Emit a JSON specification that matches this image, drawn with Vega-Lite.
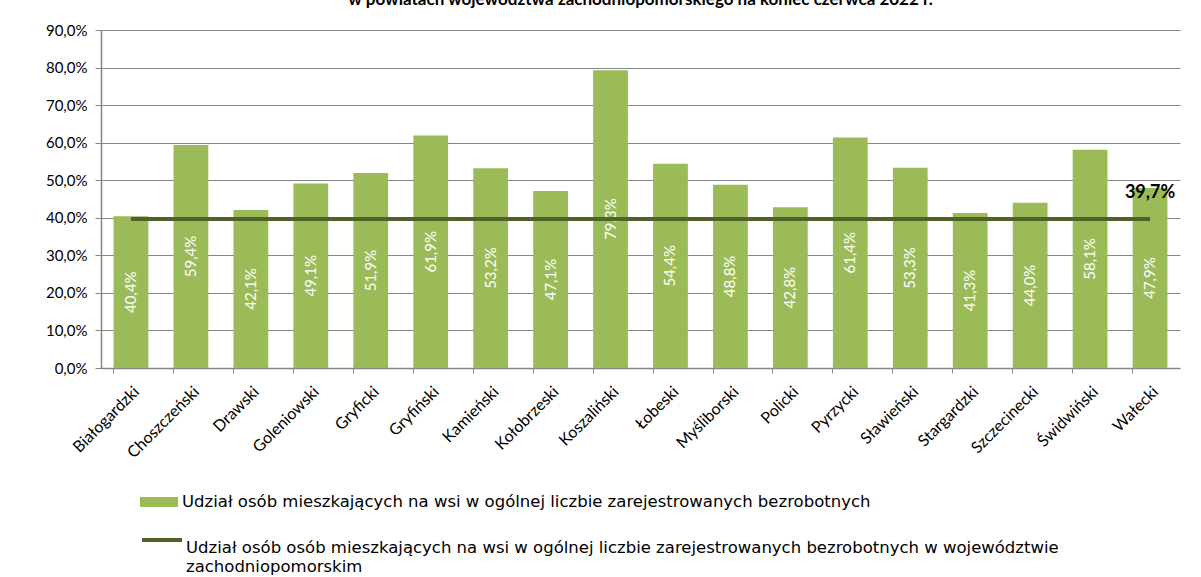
{
  "$schema": "https://vega.github.io/schema/vega-lite/v6.json",
  "autosize": {"type": "none"},
  "width": 1079,
  "height": 338,
  "padding": {"left": 101, "top": 30, "right": 21, "bottom": 209},
  "background": "white",
  "config": {
    "locale": {"number": {"decimal": ",", "thousands": " ", "grouping": [3], "currency": ["", " zł"]}},
    "font": "Lato",
    "view": {"stroke": null},
    "axisY": {
      "format": ".1%",
      "values": [0, 0.1, 0.2, 0.3, 0.4, 0.5, 0.6, 0.7, 0.8, 0.9],
      "labelOverlap": false,
      "labelFontSize": 15,
      "labelColor": "black",
      "labelPadding": 8,
      "tickSize": 6,
      "tickColor": "#868686",
      "domainColor": "#868686",
      "domainWidth": 1.5,
      "gridColor": "#868686",
      "gridWidth": 1,
      "title": null
    }
  },
  "title": {
    "text": "w powiatach województwa zachodniopomorskiego na koniec czerwca 2022 r.",
    "fontSize": 17,
    "fontWeight": "bold",
    "color": "black",
    "offset": 14,
    "anchor": "middle"
  },
  "data": {
    "values": [
      {"p": "Białogardzki", "v": 0.404, "avg": 0.397},
      {"p": "Choszczeński", "v": 0.594, "avg": 0.397},
      {"p": "Drawski", "v": 0.421, "avg": 0.397},
      {"p": "Goleniowski", "v": 0.491, "avg": 0.397},
      {"p": "Gryficki", "v": 0.519, "avg": 0.397},
      {"p": "Gryfiński", "v": 0.619, "avg": 0.397},
      {"p": "Kamieński", "v": 0.532, "avg": 0.397},
      {"p": "Kołobrzeski", "v": 0.471, "avg": 0.397},
      {"p": "Koszaliński", "v": 0.793, "avg": 0.397},
      {"p": "Łobeski", "v": 0.544, "avg": 0.397},
      {"p": "Myśliborski", "v": 0.488, "avg": 0.397},
      {"p": "Policki", "v": 0.428, "avg": 0.397},
      {"p": "Pyrzycki", "v": 0.614, "avg": 0.397},
      {"p": "Sławieński", "v": 0.533, "avg": 0.397},
      {"p": "Stargardzki", "v": 0.413, "avg": 0.397},
      {"p": "Szczecinecki", "v": 0.440, "avg": 0.397},
      {"p": "Świdwiński", "v": 0.581, "avg": 0.397},
      {"p": "Wałecki", "v": 0.479, "avg": 0.397}
    ]
  },
  "encoding": {
    "x": {
      "field": "p",
      "type": "nominal",
      "sort": null,
      "title": null,
      "scale": {"paddingInner": 0.42, "paddingOuter": 0.21},
      "axis": {
        "labelAngle": -45,
        "labelFontSize": 16,
        "labelColor": "black",
        "labelPadding": 10,
        "bandPosition": 0,
        "tickSize": 5,
        "tickColor": "#868686",
        "domainColor": "#868686",
        "domainWidth": 1.5,
        "labelLimit": 200
      }
    }
  },
  "layer": [
    {
      "mark": {"type": "bar", "color": "#9BBB59"},
      "encoding": {
        "y": {
          "field": "v",
          "type": "quantitative",
          "title": null,
          "scale": {"domain": [0, 0.9], "nice": false}
        },
        "fill": {
          "datum": "Udział osób mieszkających na wsi w ogólnej liczbie zarejestrowanych bezrobotnych",
          "type": "nominal",
          "scale": {"range": ["#9BBB59"]},
          "legend": {
            "title": null,
            "orient": "none",
            "legendX": 39,
            "legendY": 453,
            "symbolType": "M-1,-0.26H1V0.26H-1Z",
            "symbolSize": 1444,
            "symbolStrokeWidth": 0,
            "labelFont": "DejaVu Sans",
            "labelFontSize": 16.5,
            "labelColor": "black",
            "labelLimit": 1100,
            "labelOffset": 4
          }
        }
      }
    },
    {
      "transform": [{"calculate": "datum.v / 2", "as": "mid"}],
      "mark": {"type": "text", "angle": 270, "color": "white", "fontSize": 15, "align": "center", "baseline": "middle"},
      "encoding": {
        "y": {"field": "mid", "type": "quantitative", "title": null},
        "text": {"field": "v", "type": "quantitative", "format": ".1%"}
      }
    },
    {
      "mark": {"type": "line", "strokeWidth": 4},
      "encoding": {
        "y": {"field": "avg", "type": "quantitative", "title": null},
        "stroke": {
          "datum": "Udział osób osób mieszkających na wsi w ogólnej liczbie zarejestrowanych bezrobotnych w województwie",
          "type": "nominal",
          "scale": {"range": ["#4F6228"]},
          "legend": {
            "title": null,
            "orient": "none",
            "legendX": 39,
            "legendY": 488,
            "symbolType": "stroke",
            "symbolSize": 1600,
            "symbolStrokeWidth": 4,
            "labelFont": "DejaVu Sans",
            "labelFontSize": 16.5,
            "labelColor": "black",
            "labelLimit": 1100,
            "labelOffset": 2,
            "labelBaseline": "top",
            "labelExpr": "['Udział osób osób mieszkających na wsi w ogólnej liczbie zarejestrowanych bezrobotnych w województwie', 'zachodniopomorskim']"
          }
        }
      }
    },
    {
      "transform": [{"filter": "datum.p == 'Wałecki'"}],
      "mark": {"type": "text", "fontSize": 18, "fontWeight": "bold", "color": "black", "dy": -26, "align": "center"},
      "encoding": {
        "y": {"field": "avg", "type": "quantitative", "title": null},
        "text": {"field": "avg", "type": "quantitative", "format": ".1%"}
      }
    }
  ]
}
